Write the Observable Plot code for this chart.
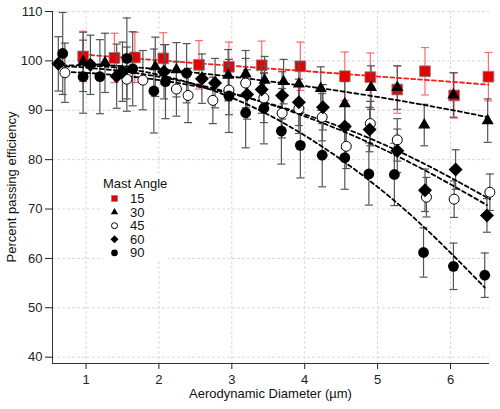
<!DOCTYPE html>
<html>
<head>
<meta charset="utf-8">
<script src="https://cdn.jsdelivr.net/npm/d3@7"></script>
<script src="https://cdn.jsdelivr.net/npm/@observablehq/plot@0.6"></script>
<style>
  body { margin: 0; background: #fff; }
  #wrap { position: relative; width: 500px; height: 409px; font-family: "Liberation Sans", Arial, sans-serif; }
  #wrap > svg.labels { position: absolute; left: 0; top: 0; pointer-events: none; }
  #legend { position: absolute; left: 103px; top: 176px; width: 65px; height: 85px; background: #fff; }
</style>
</head>
<body>
<div id="wrap"></div>
<script>
// Passing efficiency vs aerodynamic diameter, one series per mast angle (degrees)
const angles = ["15", "30", "45", "60", "90"];

const x15 = [0.96, 1.39, 1.67, 2.06, 2.55, 2.96, 3.41, 3.94, 4.55, 4.90, 5.27, 5.65, 6.05, 6.52];
const y15 = [100.9, 100.6, 100.7, 100.5, 99.2, 98.8, 99.1, 98.9, 96.9, 96.7, 94.2, 97.9, 93.0, 96.8];
const e15 = [5.1, 5.0, 5.1, 5.2, 4.9, 5.0, 4.9, 4.9, 4.9, 4.9, 4.8, 4.8, 4.6, 4.9];

const x30 = [0.96, 1.26, 1.95, 2.24, 2.95, 3.19, 3.45, 3.71, 3.92, 4.22, 4.55, 4.91, 5.27, 5.64, 6.04, 6.51];
const y30 = [99.8, 99.6, 98.8, 98.2, 97.1, 97.4, 96.1, 95.8, 95.3, 94.4, 91.3, 94.6, 94.6, 87.0, 93.1, 87.9];
const e30 = [6.0, 6.0, 6.0, 5.5, 5.2, 4.7, 4.8, 4.5, 4.5, 4.4, 4.5, 4.4, 4.4, 4.2, 4.5, 4.4];

const x45 = [0.71, 1.56, 1.78, 2.24, 2.40, 2.74, 2.96, 3.19, 3.44, 3.69, 3.92, 4.24, 4.57, 4.90, 5.27, 5.67, 6.05, 6.54];
const y45 = [97.6, 96.3, 96.1, 94.3, 93.0, 92.0, 94.1, 95.5, 92.5, 89.4, 90.3, 88.6, 82.7, 87.3, 84.0, 72.4, 72.0, 73.4];
const e45 = [6.0, 6.5, 6.0, 5.5, 5.5, 4.7, 5.0, 5.0, 5.0, 5.0, 5.0, 4.8, 4.5, 4.5, 4.3, 4.0, 3.7, 3.7];

const x60 = [0.62, 1.06, 1.42, 1.50, 2.07, 2.59, 2.77, 3.21, 3.41, 3.69, 3.92, 4.25, 4.55, 4.89, 5.27, 5.65, 6.07, 6.50];
const y60 = [99.4, 99.2, 96.9, 97.8, 97.8, 96.4, 95.5, 93.2, 94.2, 93.0, 91.6, 90.6, 86.7, 86.1, 81.8, 73.8, 78.0, 68.7];
const e60 = [5.5, 6.0, 6.5, 6.0, 5.5, 5.0, 5.0, 5.0, 4.8, 4.8, 4.7, 4.6, 4.5, 4.5, 4.4, 4.3, 4.0, 3.4];

const x90 = [0.68, 0.96, 1.19, 1.56, 1.64, 1.93, 2.09, 2.38, 2.96, 3.19, 3.44, 3.68, 3.94, 4.24, 4.55, 4.88, 5.23, 5.63, 6.04, 6.47];
const y90 = [101.5, 96.8, 96.8, 100.5, 98.4, 93.9, 95.8, 97.5, 92.9, 89.5, 90.4, 85.8, 82.9, 80.9, 80.4, 77.1, 77.0, 61.2, 58.4, 56.6];
const e90 = [8.3, 7.4, 7.5, 8.2, 7.5, 8.5, 7.5, 6.0, 7.4, 7.1, 7.2, 6.7, 6.6, 6.4, 6.4, 6.3, 6.3, 5.0, 4.7, 4.5];

// Fitted trend curves, sampled along each dashed line
const fitX15 = [0.96, 3.0, 4.5, 6.52];
const fitY15 = [101.3, 99.0, 97.4, 95.2];
const fitX30 = [0.96, 2, 3, 4, 5, 6, 6.51];
const fitY30 = [99.5, 98.3, 96.8, 94.9, 92.7, 90.1, 88.6];
const fitX45 = [0.71, 1.5, 2.5, 3.5, 4.5, 5.5, 6.54];
const fitY45 = [97.8, 97.0, 94.9, 91.4, 86.6, 80.2, 72.0];
const fitX60 = [0.62, 1.5, 2.5, 3.5, 4.5, 5.5, 6.5];
const fitY60 = [99.0, 97.9, 95.3, 91.3, 85.9, 79.0, 70.8];
const fitX90 = [0.68, 1.5, 2.5, 3.5, 4.5, 5.5, 6.47];
const fitY90 = [99.1, 98.5, 95.2, 89.1, 80.0, 68.2, 54.1];

const yTicks = [40, 50, 60, 70, 80, 90, 100, 110];
const xTicks = [1, 2, 3, 4, 5, 6];
const xLabel = "Aerodynamic Diameter (µm)";
const yLabel = "Percent passing efficiency";
const legendTitle = "Mast Angle";

const seriesX = {"15": x15, "30": x30, "45": x45, "60": x60, "90": x90};
const seriesY = {"15": y15, "30": y30, "45": y45, "60": y60, "90": y90};
const seriesE = {"15": e15, "30": e30, "45": e45, "60": e60, "90": e90};
const fitsX = {"15": fitX15, "30": fitX30, "45": fitX45, "60": fitX60, "90": fitX90};
const fitsY = {"15": fitY15, "30": fitY30, "45": fitY45, "60": fitY60, "90": fitY90};

const style = {
  "15": {symbol: "square", r: 6.1, fill: "#e60000", stroke: "#888", sw: 0.8, bar: "#ff6a6a", line: "#ff1a1a"},
  "30": {symbol: "triangle", r: 4.5, fill: "#000", stroke: "none", sw: 0, bar: "#555", line: "#000"},
  "45": {symbol: "circle", r: 5, fill: "#fff", stroke: "#000", sw: 1, bar: "#555", line: "#000"},
  "60": {symbol: "diamond2", r: 6.3, fill: "#000", stroke: "none", sw: 0, bar: "#555", line: "#000"},
  "90": {symbol: "circle", r: 5.4, fill: "#000", stroke: "none", sw: 0, bar: "#555", line: "#000"}
};

const rowsOf = a => seriesX[a].map((x, i) => ({angle: a, x, y: seriesY[a][i], e: seriesE[a][i]}));
const fitOf = a => fitsX[a].map((x, i) => ({angle: a, x, y: fitsY[a][i]}));

// horizontal cap drawn at each end of an error bar
const cap = {draw(ctx) { ctx.moveTo(-4, 0); ctx.lineTo(4, 0); }};

function barMarks(a) {
  const rows = rowsOf(a), s = style[a];
  return [
    Plot.ruleX(rows, {x: "x", y1: d => d.y - d.e, y2: d => d.y + d.e, stroke: s.bar, strokeWidth: 1.2}),
    Plot.dot(rows, {x: "x", y: d => d.y + d.e, symbol: cap, r: 3, stroke: s.bar, fill: "none", strokeWidth: 1.2}),
    Plot.dot(rows, {x: "x", y: d => d.y - d.e, symbol: cap, r: 3, stroke: s.bar, fill: "none", strokeWidth: 1.2})
  ];
}
function lineMarks(a) {
  const s = style[a];
  return Plot.line(fitOf(a), {x: "x", y: "y", stroke: s.line, strokeWidth: 1.8, strokeDasharray: "4,3", curve: "natural"});
}
function dotMarks(a) {
  const s = style[a];
  return Plot.dot(rowsOf(a), {x: "x", y: "y", symbol: s.symbol, r: s.r, fill: s.fill, stroke: s.stroke, strokeWidth: s.sw});
}

const xDomain = [0.54, 6.535];
const yDomain = [38.72, 110];
const W = 500, H = 409, mL = 52, mR = 11, mT = 11, mB = 46;

const chart = Plot.plot({
  width: W,
  height: H,
  marginLeft: mL,
  marginRight: mR,
  marginTop: mT,
  marginBottom: mB,
  style: {fontFamily: "'Liberation Sans', Arial, sans-serif", fontSize: "13px", color: "#222", background: "#fff"},
  x: {domain: xDomain, ticks: xTicks, tickFormat: "d", tickSize: 6, tickPadding: 5, label: null},
  y: {domain: yDomain, ticks: yTicks, tickFormat: "d", tickSize: 7, tickPadding: 3, label: null},
  marks: [
    Plot.gridX(xTicks, {stroke: "#d6d6f5", strokeOpacity: 1, strokeDasharray: "3,2"}),
    Plot.gridY(yTicks, {stroke: "#d6d6f5", strokeOpacity: 1, strokeDasharray: "3,2"}),
    Plot.ruleX([xDomain[0]], {stroke: "#333"}),
    Plot.ruleY([yDomain[0]], {stroke: "#333"}),
    ...barMarks("15"),
    lineMarks("15"),
    dotMarks("15"),
    ...["30", "45", "60", "90"].flatMap(barMarks),
    ...["30", "45", "60", "90"].map(lineMarks),
    ...["30", "45", "60", "90"].map(dotMarks)
  ]
});

const wrap = document.getElementById("wrap");
wrap.appendChild(chart);

// axis titles
const labels = d3.select(wrap).append("svg").attr("class", "labels")
  .attr("width", W).attr("height", H)
  .style("font-family", "'Liberation Sans', Arial, sans-serif").style("font-size", "13px");
labels.append("text")
  .attr("x", (mL + W - mR) / 2).attr("y", 398)
  .attr("text-anchor", "middle").attr("fill", "#111").text(xLabel);
labels.append("text")
  .attr("transform", `translate(16,${(mT + H - mB) / 2}) rotate(-90)`)
  .attr("text-anchor", "middle").attr("fill", "#111").text(yLabel);

// legend box inside the plot area
const legend = d3.select(wrap).append("div").attr("id", "legend");
const lsvg = legend.append("svg").attr("width", 65).attr("height", 85)
  .style("font-family", "'Liberation Sans', Arial, sans-serif").style("font-size", "13px");
lsvg.append("text").attr("x", 0).attr("y", 12).attr("fill", "#111").text(legendTitle);
const legendSize = {"15": 3.4, "30": 2.7, "45": 3, "60": 3.6, "90": 3.3};
angles.forEach((a, i) => {
  const s = style[a];
  const cy = 22.5 + i * 13.6;
  const sym = {square: d3.symbolSquare, triangle: d3.symbolTriangle, circle: d3.symbolCircle, diamond2: d3.symbolDiamond2}[s.symbol];
  const r = legendSize[a];
  lsvg.append("path")
    .attr("d", d3.symbol(sym, Math.PI * r * r)())
    .attr("transform", `translate(11.5,${cy})`)
    .attr("fill", s.fill).attr("stroke", s.stroke === "none" ? null : s.stroke)
    .attr("stroke-width", s.sw);
  lsvg.append("text").attr("x", 27).attr("y", cy).attr("dy", "0.35em").attr("fill", "#111").text(a);
});
</script>
</body>
</html>
